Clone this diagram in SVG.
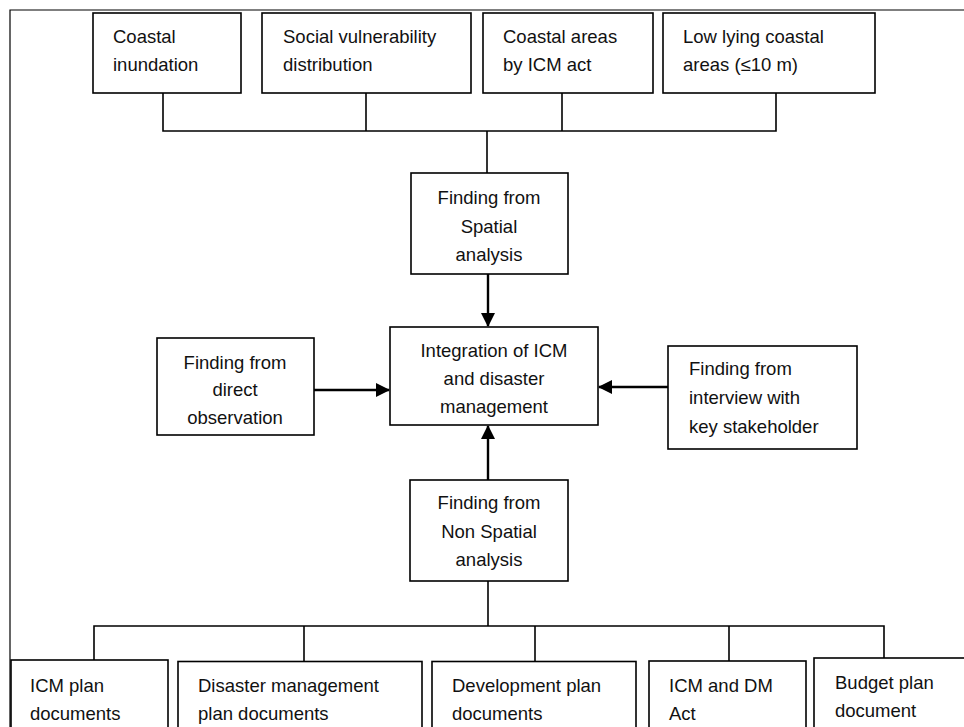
<svg xmlns="http://www.w3.org/2000/svg" width="964" height="727" viewBox="0 0 964 727">
  <defs>
    <marker id="arrow" viewBox="0 0 14 14" refX="13" refY="7" markerWidth="14" markerHeight="14" markerUnits="userSpaceOnUse" orient="auto">
      <path d="M0,0 L14,7 L0,14 Z" fill="#000"/>
    </marker>
    <style>
      .box { fill: #fff; stroke: #000; stroke-width: 1.6; }
      .frame { fill: none; stroke: #000; stroke-width: 1.2; }
      .link { fill: none; stroke: #000; stroke-width: 1.6; }
      .flow { fill: none; stroke: #000; stroke-width: 2.4; }
      text { font-family: "Liberation Sans", Arial, sans-serif; font-size: 18.5px; fill: #111; }
      .c { text-anchor: middle; }
    </style>
  </defs>

  <rect width="964" height="727" fill="#fff"/>

  <!-- page frame -->
  <path class="frame" d="M10,727 V10 H964"/>

  <!-- connectors -->
  <g id="connectors">
    <!-- top bracket -->
    <path class="link" d="M163,93 V131 H776 V93"/>
    <path class="link" d="M366,93 V131"/>
    <path class="link" d="M562,93 V131"/>
    <path class="link" d="M487,131 V173"/>
    <!-- arrows into integration box -->
    <path class="flow" d="M488,274 V326" marker-end="url(#arrow)"/>
    <path class="flow" d="M314,390 H389" marker-end="url(#arrow)"/>
    <path class="flow" d="M668,387 H599" marker-end="url(#arrow)"/>
    <path class="flow" d="M488,480 V426" marker-end="url(#arrow)"/>
    <!-- bottom bracket -->
    <path class="link" d="M488,581 V626"/>
    <path class="link" d="M94,660 V626 H884 V658"/>
    <path class="link" d="M304,626 V661"/>
    <path class="link" d="M535,626 V661"/>
    <path class="link" d="M729,626 V661"/>
  </g>

  <!-- top row -->
  <g id="coastal-inundation">
    <rect class="box" x="93" y="13" width="148" height="80"/>
    <text x="113" y="43">Coastal</text>
    <text x="113" y="70.5">inundation</text>
  </g>
  <g id="social-vulnerability">
    <rect class="box" x="262" y="13" width="209" height="80"/>
    <text x="283" y="43">Social vulnerability</text>
    <text x="283" y="70.5">distribution</text>
  </g>
  <g id="coastal-areas-icm">
    <rect class="box" x="483" y="13" width="170" height="80"/>
    <text x="503" y="43">Coastal areas</text>
    <text x="503" y="70.5">by ICM act</text>
  </g>
  <g id="low-lying-areas">
    <rect class="box" x="663" y="13" width="212" height="80"/>
    <text x="683" y="43">Low lying coastal</text>
    <text x="683" y="70.5">areas (≤10 m)</text>
  </g>

  <!-- middle -->
  <g id="spatial-finding">
    <rect class="box" x="411" y="173" width="157" height="101"/>
    <text class="c" x="489" y="203.5">Finding from</text>
    <text class="c" x="489" y="232.5">Spatial</text>
    <text class="c" x="489" y="261">analysis</text>
  </g>
  <g id="integration">
    <rect class="box" x="390" y="327" width="208" height="98"/>
    <text class="c" x="494" y="357">Integration of ICM</text>
    <text class="c" x="494" y="385">and disaster</text>
    <text class="c" x="494" y="413">management</text>
  </g>
  <g id="direct-observation">
    <rect class="box" x="157" y="338" width="157" height="97"/>
    <text class="c" x="235" y="368.5">Finding from</text>
    <text class="c" x="235" y="395.5">direct</text>
    <text class="c" x="235" y="423.5">observation</text>
  </g>
  <g id="stakeholder-interview">
    <rect class="box" x="668" y="346" width="189" height="103"/>
    <text x="689" y="375">Finding from</text>
    <text x="689" y="404">interview with</text>
    <text x="689" y="433">key stakeholder</text>
  </g>
  <g id="non-spatial-finding">
    <rect class="box" x="410" y="480" width="158" height="101"/>
    <text class="c" x="489" y="508.5">Finding from</text>
    <text class="c" x="489" y="538">Non Spatial</text>
    <text class="c" x="489" y="566">analysis</text>
  </g>

  <!-- bottom row -->
  <g id="icm-plan">
    <rect class="box" x="11" y="660" width="157" height="90"/>
    <text x="30" y="691.5">ICM plan</text>
    <text x="30" y="719.5">documents</text>
  </g>
  <g id="dm-plan">
    <rect class="box" x="178" y="661.5" width="244" height="90"/>
    <text x="198" y="691.5">Disaster management</text>
    <text x="198" y="719.5">plan documents</text>
  </g>
  <g id="development-plan">
    <rect class="box" x="432" y="661.5" width="204" height="90"/>
    <text x="452" y="691.5">Development plan</text>
    <text x="452" y="719.5">documents</text>
  </g>
  <g id="icm-dm-act">
    <rect class="box" x="649" y="661" width="157" height="90"/>
    <text x="669" y="691.5">ICM and DM</text>
    <text x="669" y="719.5">Act</text>
  </g>
  <g id="budget-plan">
    <rect class="box" x="814" y="658" width="160" height="90"/>
    <text x="835" y="688.5">Budget plan</text>
    <text x="835" y="716.5">document</text>
  </g>
</svg>
